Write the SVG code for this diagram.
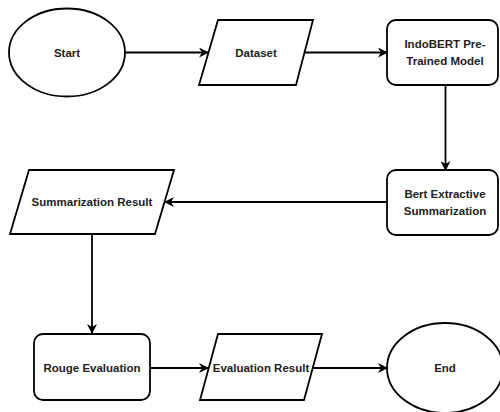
<svg xmlns="http://www.w3.org/2000/svg" width="500" height="412" viewBox="0 0 500 412">
<style>
.s{fill:#fff;stroke:#000;stroke-width:1.8}
.t{font-family:"Liberation Sans",Arial,sans-serif;font-size:11.5px;font-weight:bold;fill:#222;text-anchor:middle}
.c{fill:none;stroke:#000;stroke-width:1.8}
</style>
<defs>
<marker id="a" viewBox="0 0 10 10" refX="9" refY="5" markerWidth="10" markerHeight="10" markerUnits="userSpaceOnUse" orient="auto">
<path d="M0,0 L10,5 L0,10 L3,5 Z" fill="#000"/>
</marker>
</defs>
<rect width="500" height="412" fill="#fff"/>
<g id="connectors">
<path class="c" d="M125,52.5 H208" marker-end="url(#a)"/>
<path class="c" d="M304.5,52.5 H387" marker-end="url(#a)"/>
<path class="c" d="M445.5,84 V170" marker-end="url(#a)"/>
<path class="c" d="M387,202 H165" marker-end="url(#a)"/>
<path class="c" d="M92,234 V333" marker-end="url(#a)"/>
<path class="c" d="M150,368 H208" marker-end="url(#a)"/>
<path class="c" d="M313,368 H387" marker-end="url(#a)"/>
</g>
<g id="start">
<ellipse class="s" cx="67" cy="52.5" rx="58" ry="44"/>
<text class="t" x="67" y="56.5">Start</text>
</g>
<g id="dataset">
<polygon class="s" points="218,20 313,20 296,85 199,85"/>
<text class="t" x="256" y="56.5">Dataset</text>
</g>
<g id="indobert">
<rect class="s" x="387" y="20" width="111" height="65" rx="9"/>
<text class="t" x="445" y="48">IndoBERT Pre-</text>
<text class="t" x="445" y="64.5">Trained Model</text>
</g>
<g id="bert">
<rect class="s" x="387" y="170" width="111" height="65" rx="9"/>
<text class="t" x="445" y="198">Bert Extractive</text>
<text class="t" x="445" y="214.5">Summarization</text>
</g>
<g id="summarization">
<polygon class="s" points="29,170 174,170 155,234 10,234"/>
<text class="t" x="92" y="206">Summarization Result</text>
</g>
<g id="rouge">
<rect class="s" x="34" y="334" width="116" height="66" rx="9"/>
<text class="t" x="92" y="372">Rouge Evaluation</text>
</g>
<g id="evalresult">
<polygon class="s" points="218,334 322,334 304,400 200,400"/>
<text class="t" x="261" y="372">Evaluation Result</text>
</g>
<g id="end">
<ellipse class="s" cx="445" cy="368" rx="58" ry="45"/>
<text class="t" x="445" y="372">End</text>
</g>
</svg>
